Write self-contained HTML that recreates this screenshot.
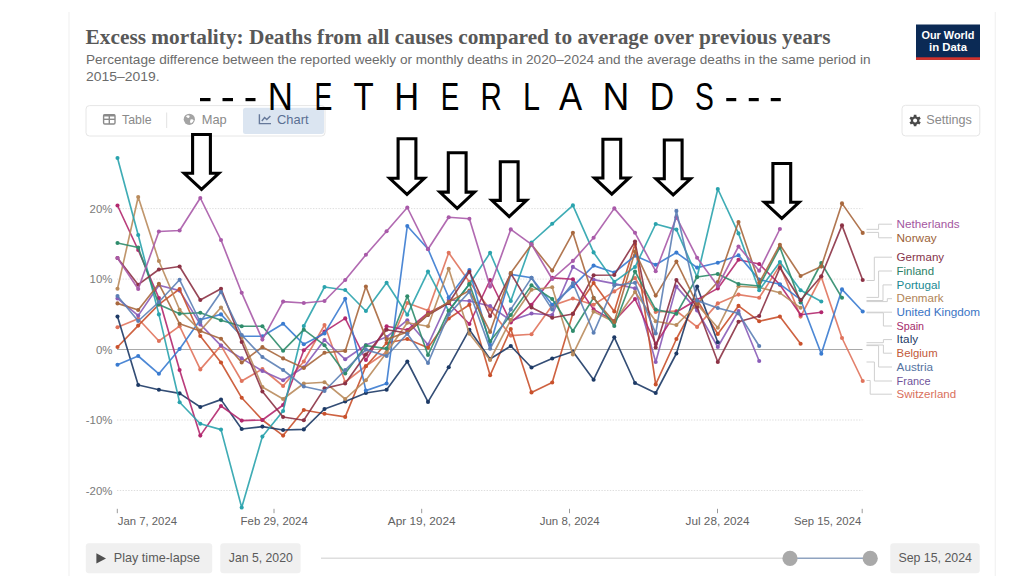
<!DOCTYPE html>
<html><head><meta charset="utf-8"><title>Excess mortality</title>
<style>html,body{margin:0;padding:0;background:#fff;}body{width:1024px;height:576px;overflow:hidden;font-family:"Liberation Sans", sans-serif;}svg{display:block;}text{font-family:"Liberation Sans", sans-serif;}</style>
</head><body>
<svg width="1024" height="576" viewBox="0 0 1024 576">
<rect x="0" y="0" width="1024" height="576" fill="#ffffff"/>
<line x1="69" y1="12" x2="69" y2="576" stroke="#f3f3f3" stroke-width="1.3"/><line x1="995.3" y1="12" x2="995.3" y2="576" stroke="#f3f3f3" stroke-width="1.3"/>
<text x="85.6" y="43.8" style='font-family:"Liberation Serif", serif' font-weight="bold" font-size="21" fill="#585858" textLength="745" lengthAdjust="spacingAndGlyphs">Excess mortality: Deaths from all causes compared to average over previous years</text>
<text x="86" y="63.9" font-size="13.4" fill="#6b6b6b" textLength="784.5" lengthAdjust="spacingAndGlyphs">Percentage difference between the reported weekly or monthly deaths in 2020–2024 and the average deaths in the same period in</text>
<text x="86" y="81.3" font-size="13.4" fill="#6b6b6b" textLength="73.5" lengthAdjust="spacingAndGlyphs">2015–2019.</text>
<rect x="916" y="24.5" width="64" height="35.3" fill="#0b2a55"/>
<rect x="916" y="57.3" width="64" height="2.6" fill="#d3312b"/>
<text x="948" y="38.6" font-size="10.6" font-weight="bold" fill="#fff" text-anchor="middle" textLength="53" lengthAdjust="spacingAndGlyphs">Our World</text>
<text x="948" y="51" font-size="10.6" font-weight="bold" fill="#fff" text-anchor="middle" textLength="38" lengthAdjust="spacingAndGlyphs">in Data</text>
<rect x="86" y="105.6" width="239" height="30.4" rx="3.5" fill="#fff" stroke="#e6e6e6" stroke-width="1"/>
<rect x="243" y="107.7" width="81" height="26.3" rx="2.5" fill="#dbe5f1"/>
<line x1="166.7" y1="112.5" x2="166.7" y2="128" stroke="#e2e2e2" stroke-width="1"/>
<g fill="none" stroke="#8a8a8a" stroke-width="1.4"><rect x="103.6" y="114.6" width="11.4" height="9.4" rx="1.2"/><line x1="103.6" y1="119.3" x2="115" y2="119.3"/><line x1="109.3" y1="114.6" x2="109.3" y2="124"/><line x1="103.6" y1="115.5" x2="115" y2="115.5" stroke-width="2"/></g>
<text x="122" y="123.8" font-size="12.6" fill="#8a8a8a" textLength="29.5" lengthAdjust="spacingAndGlyphs">Table</text>
<circle cx="189.3" cy="119.3" r="5.6" fill="#a4a4a4"/><path d="M186 116.2 q2 -1.6 3.6 -0.4 q0.4 1.6 -1 2.2 q-1.6 0.2 -2.6 -1.8z M190.5 119.5 q2.2 -0.6 3.2 0.8 q-0.8 2.6 -2.8 3.2 q-1.4 -2 -0.4 -4z" fill="#fff"/>
<text x="201.7" y="123.8" font-size="12.6" fill="#8a8a8a" textLength="25" lengthAdjust="spacingAndGlyphs">Map</text>
<path d="M259.4 114.2 V123.6 H271" fill="none" stroke="#66799a" stroke-width="1.4"/><path d="M261.8 121 L264.6 117.6 L266.8 119.6 L270.4 116" fill="none" stroke="#66799a" stroke-width="1.4"/>
<text x="277" y="123.8" font-size="12.6" fill="#5a6f93" textLength="31.5" lengthAdjust="spacingAndGlyphs">Chart</text>
<rect x="902" y="105.3" width="77.8" height="30.6" rx="3.5" fill="#fff" stroke="#e6e6e6" stroke-width="1"/>
<path d="M916.49 124.67 L916.39 126.36 L913.81 126.36 L913.71 124.67 L912.27 123.84 L910.76 124.59 L909.47 122.36 L910.88 121.43 L910.88 119.77 L909.47 118.84 L910.76 116.61 L912.27 117.36 L913.71 116.53 L913.81 114.84 L916.39 114.84 L916.49 116.53 L917.93 117.36 L919.44 116.61 L920.73 118.84 L919.32 119.77 L919.32 121.43 L920.73 122.36 L919.44 124.59 L917.93 123.84Z" fill="#4a4a4a"/>
<circle cx="915.1" cy="120.6" r="2.0" fill="#fff"/>
<text x="926.3" y="124.4" font-size="12.6" fill="#8a8a8a" textLength="45.5" lengthAdjust="spacingAndGlyphs">Settings</text>
<line x1="117" y1="208.6" x2="862.5" y2="208.6" stroke="#dedede" stroke-width="1" stroke-dasharray="1.4,1.4"/>
<line x1="117" y1="279.1" x2="862.5" y2="279.1" stroke="#dedede" stroke-width="1" stroke-dasharray="1.4,1.4"/>
<line x1="117" y1="420.0" x2="862.5" y2="420.0" stroke="#dedede" stroke-width="1" stroke-dasharray="1.4,1.4"/>
<line x1="117" y1="490.5" x2="862.5" y2="490.5" stroke="#dedede" stroke-width="1" stroke-dasharray="1.4,1.4"/>
<line x1="117" y1="349.5" x2="862.5" y2="349.5" stroke="#a9a9a9" stroke-width="1.2"/>
<text x="112.4" y="212.7" font-size="11.4" fill="#7a7a7a" text-anchor="end">20%</text>
<text x="112.4" y="283.2" font-size="11.4" fill="#7a7a7a" text-anchor="end">10%</text>
<text x="112.4" y="353.6" font-size="11.4" fill="#7a7a7a" text-anchor="end">0%</text>
<text x="112.4" y="424.1" font-size="11.4" fill="#7a7a7a" text-anchor="end">-10%</text>
<text x="112.4" y="494.6" font-size="11.4" fill="#7a7a7a" text-anchor="end">-20%</text>
<line x1="117.3" y1="508.8" x2="117.3" y2="513.2" stroke="#9a9a9a" stroke-width="1"/>
<text x="117.8" y="525.3" font-size="11.6" fill="#626262" textLength="59.2" lengthAdjust="spacingAndGlyphs">Jan 7, 2024</text>
<line x1="274.0" y1="508.8" x2="274.0" y2="513.2" stroke="#9a9a9a" stroke-width="1"/>
<text x="240.6" y="525.3" font-size="11.6" fill="#626262" textLength="67.2" lengthAdjust="spacingAndGlyphs">Feb 29, 2024</text>
<line x1="421.7" y1="508.8" x2="421.7" y2="513.2" stroke="#9a9a9a" stroke-width="1"/>
<text x="387.8" y="525.3" font-size="11.6" fill="#626262" textLength="67.8" lengthAdjust="spacingAndGlyphs">Apr 19, 2024</text>
<line x1="569.5" y1="508.8" x2="569.5" y2="513.2" stroke="#9a9a9a" stroke-width="1"/>
<text x="539.7" y="525.3" font-size="11.6" fill="#626262" textLength="60.0" lengthAdjust="spacingAndGlyphs">Jun 8, 2024</text>
<line x1="717.5" y1="508.8" x2="717.5" y2="513.2" stroke="#9a9a9a" stroke-width="1"/>
<text x="685.6" y="525.3" font-size="11.6" fill="#626262" textLength="64.0" lengthAdjust="spacingAndGlyphs">Jul 28, 2024</text>
<line x1="862.2" y1="508.8" x2="862.2" y2="513.2" stroke="#9a9a9a" stroke-width="1"/>
<text x="794.0" y="525.3" font-size="11.6" fill="#626262" textLength="67.2" lengthAdjust="spacingAndGlyphs">Sep 15, 2024</text>
<polyline fill="none" stroke="#e0735c" stroke-width="1.65" stroke-linejoin="round" stroke-linecap="round" stroke-opacity="0.9" points="117.5,327.3 138.2,318.8 158.9,341.0 179.6,326.2 200.3,369.4 221.0,345.6 241.7,381.0 262.4,369.0 283.1,386.0 303.8,361.5 324.5,325.0 345.2,382.0 365.9,366.0 386.6,352.0 407.3,303.0 428.0,310.6 448.7,252.8 469.4,281.9 490.1,309.4 510.8,335.6 531.5,334.3 552.2,305.6 572.9,298.5 593.6,304.7 614.3,291.4 635.0,278.0 655.7,311.9 676.4,311.0 697.1,326.9 717.8,303.4 738.5,294.6 759.2,297.8 779.9,265.4 800.6,316.6 821.3,277.0 842.0,338.0 862.7,381.0"/>
<g fill="#e0735c"><circle cx="117.5" cy="327.3" r="2.05"/><circle cx="138.2" cy="318.8" r="2.05"/><circle cx="158.9" cy="341.0" r="2.05"/><circle cx="179.6" cy="326.2" r="2.05"/><circle cx="200.3" cy="369.4" r="2.05"/><circle cx="221.0" cy="345.6" r="2.05"/><circle cx="241.7" cy="381.0" r="2.05"/><circle cx="262.4" cy="369.0" r="2.05"/><circle cx="283.1" cy="386.0" r="2.05"/><circle cx="303.8" cy="361.5" r="2.05"/><circle cx="324.5" cy="325.0" r="2.05"/><circle cx="345.2" cy="382.0" r="2.05"/><circle cx="365.9" cy="366.0" r="2.05"/><circle cx="386.6" cy="352.0" r="2.05"/><circle cx="407.3" cy="303.0" r="2.05"/><circle cx="428.0" cy="310.6" r="2.05"/><circle cx="448.7" cy="252.8" r="2.05"/><circle cx="469.4" cy="281.9" r="2.05"/><circle cx="490.1" cy="309.4" r="2.05"/><circle cx="510.8" cy="335.6" r="2.05"/><circle cx="531.5" cy="334.3" r="2.05"/><circle cx="552.2" cy="305.6" r="2.05"/><circle cx="572.9" cy="298.5" r="2.05"/><circle cx="593.6" cy="304.7" r="2.05"/><circle cx="614.3" cy="291.4" r="2.05"/><circle cx="635.0" cy="278.0" r="2.05"/><circle cx="655.7" cy="311.9" r="2.05"/><circle cx="676.4" cy="311.0" r="2.05"/><circle cx="697.1" cy="326.9" r="2.05"/><circle cx="717.8" cy="303.4" r="2.05"/><circle cx="738.5" cy="294.6" r="2.05"/><circle cx="759.2" cy="297.8" r="2.05"/><circle cx="779.9" cy="265.4" r="2.05"/><circle cx="800.6" cy="316.6" r="2.05"/><circle cx="821.3" cy="277.0" r="2.05"/><circle cx="842.0" cy="338.0" r="2.05"/><circle cx="862.7" cy="381.0" r="2.05"/></g>
<polyline fill="none" stroke="#8a5cb8" stroke-width="1.65" stroke-linejoin="round" stroke-linecap="round" stroke-opacity="0.9" points="117.5,298.4 138.2,315.6 158.9,285.2 179.6,290.6 200.3,324.4 221.0,345.6 241.7,358.4 262.4,371.0 283.1,380.3 303.8,367.2 324.5,340.0 345.2,359.3 365.9,345.0 386.6,337.0 407.3,320.2 428.0,344.8 448.7,300.0 469.4,301.0 490.1,306.0 510.8,320.6 531.5,313.5 552.2,315.0 572.9,266.9 593.6,279.6 614.3,283.6 635.0,288.4 655.7,362.0 676.4,286.6 697.1,310.4 717.8,347.0 738.5,311.0 759.2,361.0"/>
<g fill="#8a5cb8"><circle cx="117.5" cy="298.4" r="2.05"/><circle cx="138.2" cy="315.6" r="2.05"/><circle cx="158.9" cy="285.2" r="2.05"/><circle cx="179.6" cy="290.6" r="2.05"/><circle cx="200.3" cy="324.4" r="2.05"/><circle cx="221.0" cy="345.6" r="2.05"/><circle cx="241.7" cy="358.4" r="2.05"/><circle cx="262.4" cy="371.0" r="2.05"/><circle cx="283.1" cy="380.3" r="2.05"/><circle cx="303.8" cy="367.2" r="2.05"/><circle cx="324.5" cy="340.0" r="2.05"/><circle cx="345.2" cy="359.3" r="2.05"/><circle cx="365.9" cy="345.0" r="2.05"/><circle cx="386.6" cy="337.0" r="2.05"/><circle cx="407.3" cy="320.2" r="2.05"/><circle cx="428.0" cy="344.8" r="2.05"/><circle cx="448.7" cy="300.0" r="2.05"/><circle cx="469.4" cy="301.0" r="2.05"/><circle cx="490.1" cy="306.0" r="2.05"/><circle cx="510.8" cy="320.6" r="2.05"/><circle cx="531.5" cy="313.5" r="2.05"/><circle cx="552.2" cy="315.0" r="2.05"/><circle cx="572.9" cy="266.9" r="2.05"/><circle cx="593.6" cy="279.6" r="2.05"/><circle cx="614.3" cy="283.6" r="2.05"/><circle cx="635.0" cy="288.4" r="2.05"/><circle cx="655.7" cy="362.0" r="2.05"/><circle cx="676.4" cy="286.6" r="2.05"/><circle cx="697.1" cy="310.4" r="2.05"/><circle cx="717.8" cy="347.0" r="2.05"/><circle cx="738.5" cy="311.0" r="2.05"/><circle cx="759.2" cy="361.0" r="2.05"/></g>
<polyline fill="none" stroke="#c9512c" stroke-width="1.65" stroke-linejoin="round" stroke-linecap="round" stroke-opacity="0.9" points="117.5,347.0 138.2,325.6 158.9,304.4 179.6,289.0 200.3,336.0 221.0,362.5 241.7,397.8 262.4,420.0 283.1,435.6 303.8,410.0 324.5,413.7 345.2,416.9 365.9,366.2 386.6,343.0 407.3,339.0 428.0,347.8 448.7,318.5 469.4,304.7 490.1,375.3 510.8,329.0 531.5,392.4 552.2,382.5 572.9,313.5 593.6,283.0 614.3,311.5 635.0,244.0 655.7,384.4 676.4,339.0 697.1,300.0 717.8,334.0 738.5,305.9 759.2,321.2 779.9,316.6 800.6,343.8"/>
<g fill="#c9512c"><circle cx="117.5" cy="347.0" r="2.05"/><circle cx="138.2" cy="325.6" r="2.05"/><circle cx="158.9" cy="304.4" r="2.05"/><circle cx="179.6" cy="289.0" r="2.05"/><circle cx="200.3" cy="336.0" r="2.05"/><circle cx="221.0" cy="362.5" r="2.05"/><circle cx="241.7" cy="397.8" r="2.05"/><circle cx="262.4" cy="420.0" r="2.05"/><circle cx="283.1" cy="435.6" r="2.05"/><circle cx="303.8" cy="410.0" r="2.05"/><circle cx="324.5" cy="413.7" r="2.05"/><circle cx="345.2" cy="416.9" r="2.05"/><circle cx="365.9" cy="366.2" r="2.05"/><circle cx="386.6" cy="343.0" r="2.05"/><circle cx="407.3" cy="339.0" r="2.05"/><circle cx="428.0" cy="347.8" r="2.05"/><circle cx="448.7" cy="318.5" r="2.05"/><circle cx="469.4" cy="304.7" r="2.05"/><circle cx="490.1" cy="375.3" r="2.05"/><circle cx="510.8" cy="329.0" r="2.05"/><circle cx="531.5" cy="392.4" r="2.05"/><circle cx="552.2" cy="382.5" r="2.05"/><circle cx="572.9" cy="313.5" r="2.05"/><circle cx="593.6" cy="283.0" r="2.05"/><circle cx="614.3" cy="311.5" r="2.05"/><circle cx="635.0" cy="244.0" r="2.05"/><circle cx="655.7" cy="384.4" r="2.05"/><circle cx="676.4" cy="339.0" r="2.05"/><circle cx="697.1" cy="300.0" r="2.05"/><circle cx="717.8" cy="334.0" r="2.05"/><circle cx="738.5" cy="305.9" r="2.05"/><circle cx="759.2" cy="321.2" r="2.05"/><circle cx="779.9" cy="316.6" r="2.05"/><circle cx="800.6" cy="343.8" r="2.05"/></g>
<polyline fill="none" stroke="#1d3a66" stroke-width="1.65" stroke-linejoin="round" stroke-linecap="round" stroke-opacity="0.9" points="117.5,316.6 138.2,385.0 158.9,389.7 179.6,393.4 200.3,407.0 221.0,399.6 241.7,429.0 262.4,426.6 283.1,430.0 303.8,429.4 324.5,409.0 345.2,401.5 365.9,393.0 386.6,389.7 407.3,361.5 428.0,401.9 448.7,367.2 469.4,329.7 490.1,359.0 510.8,346.0 531.5,367.5 552.2,358.5 572.9,351.5 593.6,379.7 614.3,337.3 635.0,383.0 655.7,393.0 676.4,353.5 697.1,286.6 717.8,342.2"/>
<g fill="#1d3a66"><circle cx="117.5" cy="316.6" r="2.05"/><circle cx="138.2" cy="385.0" r="2.05"/><circle cx="158.9" cy="389.7" r="2.05"/><circle cx="179.6" cy="393.4" r="2.05"/><circle cx="200.3" cy="407.0" r="2.05"/><circle cx="221.0" cy="399.6" r="2.05"/><circle cx="241.7" cy="429.0" r="2.05"/><circle cx="262.4" cy="426.6" r="2.05"/><circle cx="283.1" cy="430.0" r="2.05"/><circle cx="303.8" cy="429.4" r="2.05"/><circle cx="324.5" cy="409.0" r="2.05"/><circle cx="345.2" cy="401.5" r="2.05"/><circle cx="365.9" cy="393.0" r="2.05"/><circle cx="386.6" cy="389.7" r="2.05"/><circle cx="407.3" cy="361.5" r="2.05"/><circle cx="428.0" cy="401.9" r="2.05"/><circle cx="448.7" cy="367.2" r="2.05"/><circle cx="469.4" cy="329.7" r="2.05"/><circle cx="490.1" cy="359.0" r="2.05"/><circle cx="510.8" cy="346.0" r="2.05"/><circle cx="531.5" cy="367.5" r="2.05"/><circle cx="552.2" cy="358.5" r="2.05"/><circle cx="572.9" cy="351.5" r="2.05"/><circle cx="593.6" cy="379.7" r="2.05"/><circle cx="614.3" cy="337.3" r="2.05"/><circle cx="635.0" cy="383.0" r="2.05"/><circle cx="655.7" cy="393.0" r="2.05"/><circle cx="676.4" cy="353.5" r="2.05"/><circle cx="697.1" cy="286.6" r="2.05"/><circle cx="717.8" cy="342.2" r="2.05"/></g>
<polyline fill="none" stroke="#b2286e" stroke-width="1.65" stroke-linejoin="round" stroke-linecap="round" stroke-opacity="0.9" points="117.5,205.5 138.2,250.0 158.9,298.0 179.6,370.0 200.3,435.6 221.0,406.0 241.7,420.6 262.4,420.0 283.1,405.0 303.8,350.3 324.5,331.6 345.2,318.4 365.9,360.0 386.6,326.2 407.3,330.0 428.0,313.0 448.7,303.0 469.4,324.0 490.1,280.0 510.8,322.5 531.5,304.7 552.2,277.9 572.9,279.2 593.6,309.4 614.3,321.0 635.0,299.0 655.7,344.0 676.4,312.0 697.1,299.7 717.8,288.4 738.5,259.8 759.2,264.0 779.9,284.7 800.6,314.7 821.3,312.2"/>
<g fill="#b2286e"><circle cx="117.5" cy="205.5" r="2.05"/><circle cx="138.2" cy="250.0" r="2.05"/><circle cx="158.9" cy="298.0" r="2.05"/><circle cx="179.6" cy="370.0" r="2.05"/><circle cx="200.3" cy="435.6" r="2.05"/><circle cx="221.0" cy="406.0" r="2.05"/><circle cx="241.7" cy="420.6" r="2.05"/><circle cx="262.4" cy="420.0" r="2.05"/><circle cx="283.1" cy="405.0" r="2.05"/><circle cx="303.8" cy="350.3" r="2.05"/><circle cx="324.5" cy="331.6" r="2.05"/><circle cx="345.2" cy="318.4" r="2.05"/><circle cx="365.9" cy="360.0" r="2.05"/><circle cx="386.6" cy="326.2" r="2.05"/><circle cx="407.3" cy="330.0" r="2.05"/><circle cx="428.0" cy="313.0" r="2.05"/><circle cx="448.7" cy="303.0" r="2.05"/><circle cx="469.4" cy="324.0" r="2.05"/><circle cx="490.1" cy="280.0" r="2.05"/><circle cx="510.8" cy="322.5" r="2.05"/><circle cx="531.5" cy="304.7" r="2.05"/><circle cx="552.2" cy="277.9" r="2.05"/><circle cx="572.9" cy="279.2" r="2.05"/><circle cx="593.6" cy="309.4" r="2.05"/><circle cx="614.3" cy="321.0" r="2.05"/><circle cx="635.0" cy="299.0" r="2.05"/><circle cx="655.7" cy="344.0" r="2.05"/><circle cx="676.4" cy="312.0" r="2.05"/><circle cx="697.1" cy="299.7" r="2.05"/><circle cx="717.8" cy="288.4" r="2.05"/><circle cx="738.5" cy="259.8" r="2.05"/><circle cx="759.2" cy="264.0" r="2.05"/><circle cx="779.9" cy="284.7" r="2.05"/><circle cx="800.6" cy="314.7" r="2.05"/><circle cx="821.3" cy="312.2" r="2.05"/></g>
<polyline fill="none" stroke="#3a7bd0" stroke-width="1.65" stroke-linejoin="round" stroke-linecap="round" stroke-opacity="0.9" points="117.5,364.8 138.2,356.0 158.9,373.8 179.6,349.0 200.3,319.8 221.0,314.4 241.7,336.2 262.4,336.2 283.1,323.7 303.8,344.3 324.5,333.4 345.2,298.8 365.9,390.6 386.6,383.5 407.3,226.0 428.0,249.0 448.7,297.5 469.4,270.0 490.1,345.0 510.8,274.4 531.5,277.8 552.2,304.7 572.9,286.3 593.6,265.6 614.3,272.5 635.0,255.8 655.7,264.7 676.4,252.6 697.1,267.6 717.8,262.8 738.5,255.3 759.2,279.6 779.9,284.2 800.6,299.7 821.3,353.7 842.0,289.4 862.7,311.5"/>
<g fill="#3a7bd0"><circle cx="117.5" cy="364.8" r="2.05"/><circle cx="138.2" cy="356.0" r="2.05"/><circle cx="158.9" cy="373.8" r="2.05"/><circle cx="179.6" cy="349.0" r="2.05"/><circle cx="200.3" cy="319.8" r="2.05"/><circle cx="221.0" cy="314.4" r="2.05"/><circle cx="241.7" cy="336.2" r="2.05"/><circle cx="262.4" cy="336.2" r="2.05"/><circle cx="283.1" cy="323.7" r="2.05"/><circle cx="303.8" cy="344.3" r="2.05"/><circle cx="324.5" cy="333.4" r="2.05"/><circle cx="345.2" cy="298.8" r="2.05"/><circle cx="365.9" cy="390.6" r="2.05"/><circle cx="386.6" cy="383.5" r="2.05"/><circle cx="407.3" cy="226.0" r="2.05"/><circle cx="428.0" cy="249.0" r="2.05"/><circle cx="448.7" cy="297.5" r="2.05"/><circle cx="469.4" cy="270.0" r="2.05"/><circle cx="490.1" cy="345.0" r="2.05"/><circle cx="510.8" cy="274.4" r="2.05"/><circle cx="531.5" cy="277.8" r="2.05"/><circle cx="552.2" cy="304.7" r="2.05"/><circle cx="572.9" cy="286.3" r="2.05"/><circle cx="593.6" cy="265.6" r="2.05"/><circle cx="614.3" cy="272.5" r="2.05"/><circle cx="635.0" cy="255.8" r="2.05"/><circle cx="655.7" cy="264.7" r="2.05"/><circle cx="676.4" cy="252.6" r="2.05"/><circle cx="697.1" cy="267.6" r="2.05"/><circle cx="717.8" cy="262.8" r="2.05"/><circle cx="738.5" cy="255.3" r="2.05"/><circle cx="759.2" cy="279.6" r="2.05"/><circle cx="779.9" cy="284.2" r="2.05"/><circle cx="800.6" cy="299.7" r="2.05"/><circle cx="821.3" cy="353.7" r="2.05"/><circle cx="842.0" cy="289.4" r="2.05"/><circle cx="862.7" cy="311.5" r="2.05"/></g>
<polyline fill="none" stroke="#b98b5c" stroke-width="1.65" stroke-linejoin="round" stroke-linecap="round" stroke-opacity="0.9" points="117.5,288.8 138.2,197.0 158.9,261.0 179.6,309.8 200.3,330.6 221.0,307.5 241.7,337.5 262.4,387.0 283.1,399.0 303.8,383.5 324.5,382.2 345.2,399.0 365.9,380.3 386.6,352.5 407.3,322.8 428.0,326.2 448.7,268.8 469.4,333.8 490.1,360.0 510.8,320.0 531.5,289.7 552.2,287.2 572.9,354.4 593.6,311.6 614.3,322.0 635.0,292.0 655.7,321.2 676.4,325.0 697.1,304.4 717.8,327.8 738.5,286.3 759.2,287.5 779.9,292.8 800.6,307.8"/>
<g fill="#b98b5c"><circle cx="117.5" cy="288.8" r="2.05"/><circle cx="138.2" cy="197.0" r="2.05"/><circle cx="158.9" cy="261.0" r="2.05"/><circle cx="179.6" cy="309.8" r="2.05"/><circle cx="200.3" cy="330.6" r="2.05"/><circle cx="221.0" cy="307.5" r="2.05"/><circle cx="241.7" cy="337.5" r="2.05"/><circle cx="262.4" cy="387.0" r="2.05"/><circle cx="283.1" cy="399.0" r="2.05"/><circle cx="303.8" cy="383.5" r="2.05"/><circle cx="324.5" cy="382.2" r="2.05"/><circle cx="345.2" cy="399.0" r="2.05"/><circle cx="365.9" cy="380.3" r="2.05"/><circle cx="386.6" cy="352.5" r="2.05"/><circle cx="407.3" cy="322.8" r="2.05"/><circle cx="428.0" cy="326.2" r="2.05"/><circle cx="448.7" cy="268.8" r="2.05"/><circle cx="469.4" cy="333.8" r="2.05"/><circle cx="490.1" cy="360.0" r="2.05"/><circle cx="510.8" cy="320.0" r="2.05"/><circle cx="531.5" cy="289.7" r="2.05"/><circle cx="552.2" cy="287.2" r="2.05"/><circle cx="572.9" cy="354.4" r="2.05"/><circle cx="593.6" cy="311.6" r="2.05"/><circle cx="614.3" cy="322.0" r="2.05"/><circle cx="635.0" cy="292.0" r="2.05"/><circle cx="655.7" cy="321.2" r="2.05"/><circle cx="676.4" cy="325.0" r="2.05"/><circle cx="697.1" cy="304.4" r="2.05"/><circle cx="717.8" cy="327.8" r="2.05"/><circle cx="738.5" cy="286.3" r="2.05"/><circle cx="759.2" cy="287.5" r="2.05"/><circle cx="779.9" cy="292.8" r="2.05"/><circle cx="800.6" cy="307.8" r="2.05"/></g>
<polyline fill="none" stroke="#2aa3ad" stroke-width="1.65" stroke-linejoin="round" stroke-linecap="round" stroke-opacity="0.9" points="117.5,158.0 138.2,235.0 158.9,314.4 179.6,402.2 200.3,423.8 221.0,429.6 241.7,507.5 262.4,436.6 283.1,411.0 303.8,326.0 324.5,287.0 345.2,290.0 365.9,311.0 386.6,282.8 407.3,314.7 428.0,271.6 448.7,311.0 469.4,284.3 490.1,252.8 510.8,301.0 531.5,242.5 552.2,223.8 572.9,205.4 593.6,252.4 614.3,281.9 635.0,267.0 655.7,224.0 676.4,229.6 697.1,277.0 717.8,189.0 738.5,233.4 759.2,290.3 779.9,262.0 800.6,290.3 821.3,301.5"/>
<g fill="#2aa3ad"><circle cx="117.5" cy="158.0" r="2.05"/><circle cx="138.2" cy="235.0" r="2.05"/><circle cx="158.9" cy="314.4" r="2.05"/><circle cx="179.6" cy="402.2" r="2.05"/><circle cx="200.3" cy="423.8" r="2.05"/><circle cx="221.0" cy="429.6" r="2.05"/><circle cx="241.7" cy="507.5" r="2.05"/><circle cx="262.4" cy="436.6" r="2.05"/><circle cx="283.1" cy="411.0" r="2.05"/><circle cx="303.8" cy="326.0" r="2.05"/><circle cx="324.5" cy="287.0" r="2.05"/><circle cx="345.2" cy="290.0" r="2.05"/><circle cx="365.9" cy="311.0" r="2.05"/><circle cx="386.6" cy="282.8" r="2.05"/><circle cx="407.3" cy="314.7" r="2.05"/><circle cx="428.0" cy="271.6" r="2.05"/><circle cx="448.7" cy="311.0" r="2.05"/><circle cx="469.4" cy="284.3" r="2.05"/><circle cx="490.1" cy="252.8" r="2.05"/><circle cx="510.8" cy="301.0" r="2.05"/><circle cx="531.5" cy="242.5" r="2.05"/><circle cx="552.2" cy="223.8" r="2.05"/><circle cx="572.9" cy="205.4" r="2.05"/><circle cx="593.6" cy="252.4" r="2.05"/><circle cx="614.3" cy="281.9" r="2.05"/><circle cx="635.0" cy="267.0" r="2.05"/><circle cx="655.7" cy="224.0" r="2.05"/><circle cx="676.4" cy="229.6" r="2.05"/><circle cx="697.1" cy="277.0" r="2.05"/><circle cx="717.8" cy="189.0" r="2.05"/><circle cx="738.5" cy="233.4" r="2.05"/><circle cx="759.2" cy="290.3" r="2.05"/><circle cx="779.9" cy="262.0" r="2.05"/><circle cx="800.6" cy="290.3" r="2.05"/><circle cx="821.3" cy="301.5" r="2.05"/></g>
<polyline fill="none" stroke="#2f8c6c" stroke-width="1.65" stroke-linejoin="round" stroke-linecap="round" stroke-opacity="0.9" points="117.5,243.0 138.2,247.5 158.9,304.4 179.6,313.8 200.3,312.8 221.0,320.2 241.7,326.2 262.4,326.3 283.1,350.7 303.8,329.7 324.5,345.2 345.2,373.4 365.9,345.6 386.6,348.6 407.3,296.2 428.0,355.0 448.7,310.8 469.4,284.0 490.1,341.2 510.8,315.0 531.5,285.4 552.2,299.0 572.9,331.0 593.6,297.8 614.3,326.0 635.0,271.5 655.7,309.6 676.4,313.8 697.1,277.0 717.8,274.0 738.5,284.0 759.2,286.0 779.9,247.3 800.6,302.5 821.3,263.0 842.0,297.8"/>
<g fill="#2f8c6c"><circle cx="117.5" cy="243.0" r="2.05"/><circle cx="138.2" cy="247.5" r="2.05"/><circle cx="158.9" cy="304.4" r="2.05"/><circle cx="179.6" cy="313.8" r="2.05"/><circle cx="200.3" cy="312.8" r="2.05"/><circle cx="221.0" cy="320.2" r="2.05"/><circle cx="241.7" cy="326.2" r="2.05"/><circle cx="262.4" cy="326.3" r="2.05"/><circle cx="283.1" cy="350.7" r="2.05"/><circle cx="303.8" cy="329.7" r="2.05"/><circle cx="324.5" cy="345.2" r="2.05"/><circle cx="345.2" cy="373.4" r="2.05"/><circle cx="365.9" cy="345.6" r="2.05"/><circle cx="386.6" cy="348.6" r="2.05"/><circle cx="407.3" cy="296.2" r="2.05"/><circle cx="428.0" cy="355.0" r="2.05"/><circle cx="448.7" cy="310.8" r="2.05"/><circle cx="469.4" cy="284.0" r="2.05"/><circle cx="490.1" cy="341.2" r="2.05"/><circle cx="510.8" cy="315.0" r="2.05"/><circle cx="531.5" cy="285.4" r="2.05"/><circle cx="552.2" cy="299.0" r="2.05"/><circle cx="572.9" cy="331.0" r="2.05"/><circle cx="593.6" cy="297.8" r="2.05"/><circle cx="614.3" cy="326.0" r="2.05"/><circle cx="635.0" cy="271.5" r="2.05"/><circle cx="655.7" cy="309.6" r="2.05"/><circle cx="676.4" cy="313.8" r="2.05"/><circle cx="697.1" cy="277.0" r="2.05"/><circle cx="717.8" cy="274.0" r="2.05"/><circle cx="738.5" cy="284.0" r="2.05"/><circle cx="759.2" cy="286.0" r="2.05"/><circle cx="779.9" cy="247.3" r="2.05"/><circle cx="800.6" cy="302.5" r="2.05"/><circle cx="821.3" cy="263.0" r="2.05"/><circle cx="842.0" cy="297.8" r="2.05"/></g>
<polyline fill="none" stroke="#8c3245" stroke-width="1.65" stroke-linejoin="round" stroke-linecap="round" stroke-opacity="0.9" points="117.5,258.0 138.2,284.7 158.9,269.5 179.6,266.5 200.3,300.0 221.0,288.8 241.7,342.0 262.4,391.5 283.1,417.0 303.8,420.2 324.5,388.4 345.2,383.5 365.9,354.6 386.6,329.7 407.3,333.0 428.0,315.0 448.7,303.0 469.4,271.7 490.1,316.0 510.8,273.4 531.5,307.5 552.2,317.8 572.9,314.0 593.6,275.2 614.3,275.0 635.0,241.6 655.7,347.5 676.4,280.0 697.1,307.0 717.8,362.0 738.5,321.8 759.2,316.0 779.9,267.8 800.6,300.2 821.3,276.2 842.0,225.4 862.7,280.0"/>
<g fill="#8c3245"><circle cx="117.5" cy="258.0" r="2.05"/><circle cx="138.2" cy="284.7" r="2.05"/><circle cx="158.9" cy="269.5" r="2.05"/><circle cx="179.6" cy="266.5" r="2.05"/><circle cx="200.3" cy="300.0" r="2.05"/><circle cx="221.0" cy="288.8" r="2.05"/><circle cx="241.7" cy="342.0" r="2.05"/><circle cx="262.4" cy="391.5" r="2.05"/><circle cx="283.1" cy="417.0" r="2.05"/><circle cx="303.8" cy="420.2" r="2.05"/><circle cx="324.5" cy="388.4" r="2.05"/><circle cx="345.2" cy="383.5" r="2.05"/><circle cx="365.9" cy="354.6" r="2.05"/><circle cx="386.6" cy="329.7" r="2.05"/><circle cx="407.3" cy="333.0" r="2.05"/><circle cx="428.0" cy="315.0" r="2.05"/><circle cx="448.7" cy="303.0" r="2.05"/><circle cx="469.4" cy="271.7" r="2.05"/><circle cx="490.1" cy="316.0" r="2.05"/><circle cx="510.8" cy="273.4" r="2.05"/><circle cx="531.5" cy="307.5" r="2.05"/><circle cx="552.2" cy="317.8" r="2.05"/><circle cx="572.9" cy="314.0" r="2.05"/><circle cx="593.6" cy="275.2" r="2.05"/><circle cx="614.3" cy="275.0" r="2.05"/><circle cx="635.0" cy="241.6" r="2.05"/><circle cx="655.7" cy="347.5" r="2.05"/><circle cx="676.4" cy="280.0" r="2.05"/><circle cx="697.1" cy="307.0" r="2.05"/><circle cx="717.8" cy="362.0" r="2.05"/><circle cx="738.5" cy="321.8" r="2.05"/><circle cx="759.2" cy="316.0" r="2.05"/><circle cx="779.9" cy="267.8" r="2.05"/><circle cx="800.6" cy="300.2" r="2.05"/><circle cx="821.3" cy="276.2" r="2.05"/><circle cx="842.0" cy="225.4" r="2.05"/><circle cx="862.7" cy="280.0" r="2.05"/></g>
<polyline fill="none" stroke="#a8683e" stroke-width="1.65" stroke-linejoin="round" stroke-linecap="round" stroke-opacity="0.9" points="117.5,303.4 138.2,310.0 158.9,283.8 179.6,323.8 200.3,331.0 221.0,338.8 241.7,362.5 262.4,347.0 283.1,358.4 303.8,368.0 324.5,352.8 345.2,350.9 365.9,286.6 386.6,339.4 407.3,332.0 428.0,314.4 448.7,302.0 469.4,290.5 490.1,331.9 510.8,273.0 531.5,244.4 552.2,270.6 572.9,232.8 593.6,298.0 614.3,322.0 635.0,251.5 655.7,295.6 676.4,261.6 697.1,304.0 717.8,282.0 738.5,222.0 759.2,282.8 779.9,244.7 800.6,276.0 821.3,266.6 842.0,203.4 862.7,232.9"/>
<g fill="#a8683e"><circle cx="117.5" cy="303.4" r="2.05"/><circle cx="138.2" cy="310.0" r="2.05"/><circle cx="158.9" cy="283.8" r="2.05"/><circle cx="179.6" cy="323.8" r="2.05"/><circle cx="200.3" cy="331.0" r="2.05"/><circle cx="221.0" cy="338.8" r="2.05"/><circle cx="241.7" cy="362.5" r="2.05"/><circle cx="262.4" cy="347.0" r="2.05"/><circle cx="283.1" cy="358.4" r="2.05"/><circle cx="303.8" cy="368.0" r="2.05"/><circle cx="324.5" cy="352.8" r="2.05"/><circle cx="345.2" cy="350.9" r="2.05"/><circle cx="365.9" cy="286.6" r="2.05"/><circle cx="386.6" cy="339.4" r="2.05"/><circle cx="407.3" cy="332.0" r="2.05"/><circle cx="428.0" cy="314.4" r="2.05"/><circle cx="448.7" cy="302.0" r="2.05"/><circle cx="469.4" cy="290.5" r="2.05"/><circle cx="490.1" cy="331.9" r="2.05"/><circle cx="510.8" cy="273.0" r="2.05"/><circle cx="531.5" cy="244.4" r="2.05"/><circle cx="552.2" cy="270.6" r="2.05"/><circle cx="572.9" cy="232.8" r="2.05"/><circle cx="593.6" cy="298.0" r="2.05"/><circle cx="614.3" cy="322.0" r="2.05"/><circle cx="635.0" cy="251.5" r="2.05"/><circle cx="655.7" cy="295.6" r="2.05"/><circle cx="676.4" cy="261.6" r="2.05"/><circle cx="697.1" cy="304.0" r="2.05"/><circle cx="717.8" cy="282.0" r="2.05"/><circle cx="738.5" cy="222.0" r="2.05"/><circle cx="759.2" cy="282.8" r="2.05"/><circle cx="779.9" cy="244.7" r="2.05"/><circle cx="800.6" cy="276.0" r="2.05"/><circle cx="821.3" cy="266.6" r="2.05"/><circle cx="842.0" cy="203.4" r="2.05"/><circle cx="862.7" cy="232.9" r="2.05"/></g>
<polyline fill="none" stroke="#a95aa9" stroke-width="1.65" stroke-linejoin="round" stroke-linecap="round" stroke-opacity="0.9" points="117.5,258.0 138.2,289.0 158.9,231.5 179.6,230.5 200.3,198.0 221.0,240.0 241.7,292.8 262.4,339.6 283.1,301.6 303.8,303.0 324.5,301.0 345.2,280.0 365.9,254.7 386.6,231.2 407.3,207.5 428.0,249.2 448.7,217.2 469.4,218.7 490.1,286.6 510.8,229.4 531.5,244.4 552.2,279.0 572.9,260.9 593.6,237.8 614.3,208.4 635.0,232.8 655.7,271.2 676.4,217.2 697.1,257.8 717.8,286.0 738.5,246.5 759.2,270.7 779.9,229.0"/>
<g fill="#a95aa9"><circle cx="117.5" cy="258.0" r="2.05"/><circle cx="138.2" cy="289.0" r="2.05"/><circle cx="158.9" cy="231.5" r="2.05"/><circle cx="179.6" cy="230.5" r="2.05"/><circle cx="200.3" cy="198.0" r="2.05"/><circle cx="221.0" cy="240.0" r="2.05"/><circle cx="241.7" cy="292.8" r="2.05"/><circle cx="262.4" cy="339.6" r="2.05"/><circle cx="283.1" cy="301.6" r="2.05"/><circle cx="303.8" cy="303.0" r="2.05"/><circle cx="324.5" cy="301.0" r="2.05"/><circle cx="345.2" cy="280.0" r="2.05"/><circle cx="365.9" cy="254.7" r="2.05"/><circle cx="386.6" cy="231.2" r="2.05"/><circle cx="407.3" cy="207.5" r="2.05"/><circle cx="428.0" cy="249.2" r="2.05"/><circle cx="448.7" cy="217.2" r="2.05"/><circle cx="469.4" cy="218.7" r="2.05"/><circle cx="490.1" cy="286.6" r="2.05"/><circle cx="510.8" cy="229.4" r="2.05"/><circle cx="531.5" cy="244.4" r="2.05"/><circle cx="552.2" cy="279.0" r="2.05"/><circle cx="572.9" cy="260.9" r="2.05"/><circle cx="593.6" cy="237.8" r="2.05"/><circle cx="614.3" cy="208.4" r="2.05"/><circle cx="635.0" cy="232.8" r="2.05"/><circle cx="655.7" cy="271.2" r="2.05"/><circle cx="676.4" cy="217.2" r="2.05"/><circle cx="697.1" cy="257.8" r="2.05"/><circle cx="717.8" cy="286.0" r="2.05"/><circle cx="738.5" cy="246.5" r="2.05"/><circle cx="759.2" cy="270.7" r="2.05"/><circle cx="779.9" cy="229.0" r="2.05"/></g>
<polyline fill="none" stroke="#5c7fb5" stroke-width="1.65" stroke-linejoin="round" stroke-linecap="round" stroke-opacity="0.9" points="117.5,296.0 138.2,321.0 158.9,302.0 179.6,279.8 200.3,322.0 221.0,292.0 241.7,335.0 262.4,357.0 283.1,370.0 303.8,386.5 324.5,391.0 345.2,370.0 365.9,349.6 386.6,356.0 407.3,333.8 428.0,362.9 448.7,314.4 469.4,291.7 490.1,348.8 510.8,309.4 531.5,277.9 552.2,309.4 572.9,283.0 593.6,332.8 614.3,285.5 635.0,282.8 655.7,333.4 676.4,210.9 697.1,300.6 717.8,308.0 738.5,313.4 759.2,346.0"/>
<g fill="#5c7fb5"><circle cx="117.5" cy="296.0" r="2.05"/><circle cx="138.2" cy="321.0" r="2.05"/><circle cx="158.9" cy="302.0" r="2.05"/><circle cx="179.6" cy="279.8" r="2.05"/><circle cx="200.3" cy="322.0" r="2.05"/><circle cx="221.0" cy="292.0" r="2.05"/><circle cx="241.7" cy="335.0" r="2.05"/><circle cx="262.4" cy="357.0" r="2.05"/><circle cx="283.1" cy="370.0" r="2.05"/><circle cx="303.8" cy="386.5" r="2.05"/><circle cx="324.5" cy="391.0" r="2.05"/><circle cx="345.2" cy="370.0" r="2.05"/><circle cx="365.9" cy="349.6" r="2.05"/><circle cx="386.6" cy="356.0" r="2.05"/><circle cx="407.3" cy="333.8" r="2.05"/><circle cx="428.0" cy="362.9" r="2.05"/><circle cx="448.7" cy="314.4" r="2.05"/><circle cx="469.4" cy="291.7" r="2.05"/><circle cx="490.1" cy="348.8" r="2.05"/><circle cx="510.8" cy="309.4" r="2.05"/><circle cx="531.5" cy="277.9" r="2.05"/><circle cx="552.2" cy="309.4" r="2.05"/><circle cx="572.9" cy="283.0" r="2.05"/><circle cx="593.6" cy="332.8" r="2.05"/><circle cx="614.3" cy="285.5" r="2.05"/><circle cx="635.0" cy="282.8" r="2.05"/><circle cx="655.7" cy="333.4" r="2.05"/><circle cx="676.4" cy="210.9" r="2.05"/><circle cx="697.1" cy="300.6" r="2.05"/><circle cx="717.8" cy="308.0" r="2.05"/><circle cx="738.5" cy="313.4" r="2.05"/><circle cx="759.2" cy="346.0" r="2.05"/></g>
<text x="896.6" y="228.0" font-size="11.3" fill="#a4569f" textLength="63.0" lengthAdjust="spacingAndGlyphs">Netherlands</text>
<text x="896.6" y="242.0" font-size="11.3" fill="#9c6239" textLength="40.0" lengthAdjust="spacingAndGlyphs">Norway</text>
<text x="896.6" y="261.4" font-size="11.3" fill="#85334a" textLength="47.5" lengthAdjust="spacingAndGlyphs">Germany</text>
<text x="896.6" y="274.8" font-size="11.3" fill="#2b7f66" textLength="37.5" lengthAdjust="spacingAndGlyphs">Finland</text>
<text x="896.6" y="288.7" font-size="11.3" fill="#1b8a93" textLength="43.5" lengthAdjust="spacingAndGlyphs">Portugal</text>
<text x="896.6" y="302.3" font-size="11.3" fill="#b08457" textLength="47.0" lengthAdjust="spacingAndGlyphs">Denmark</text>
<text x="896.6" y="315.7" font-size="11.3" fill="#3a74c4" textLength="83.5" lengthAdjust="spacingAndGlyphs">United Kingdom</text>
<text x="896.6" y="329.7" font-size="11.3" fill="#a52a6b" textLength="27.5" lengthAdjust="spacingAndGlyphs">Spain</text>
<text x="896.6" y="343.0" font-size="11.3" fill="#1d3a66" textLength="21.5" lengthAdjust="spacingAndGlyphs">Italy</text>
<text x="896.6" y="357.0" font-size="11.3" fill="#c25a3a" textLength="41.0" lengthAdjust="spacingAndGlyphs">Belgium</text>
<text x="896.6" y="371.0" font-size="11.3" fill="#55739f" textLength="36.5" lengthAdjust="spacingAndGlyphs">Austria</text>
<text x="896.6" y="384.7" font-size="11.3" fill="#6f539a" textLength="34.0" lengthAdjust="spacingAndGlyphs">France</text>
<text x="896.6" y="398.0" font-size="11.3" fill="#d96f5c" textLength="59.5" lengthAdjust="spacingAndGlyphs">Switzerland</text>
<path d="M866.5 229.3 H878.6 V224.2 H892" fill="none" stroke="#cfcfcf" stroke-width="1"/>
<path d="M866.5 232.4 H878.6 V237.8 H892" fill="none" stroke="#cfcfcf" stroke-width="1"/>
<path d="M866.5 280.5 H874.3 V257.2 H892" fill="none" stroke="#cfcfcf" stroke-width="1"/>
<path d="M866.5 297.4 H878.6 V271.0 H892" fill="none" stroke="#cfcfcf" stroke-width="1"/>
<path d="M866.5 300.5 H883.0 V284.9 H892" fill="none" stroke="#cfcfcf" stroke-width="1"/>
<path d="M866.5 301.6 H887.3 V298.7 H892" fill="none" stroke="#cfcfcf" stroke-width="1"/>
<path d="M866.5 312.2 H883.4 V312.2 H892" fill="none" stroke="#cfcfcf" stroke-width="1"/>
<path d="M866.5 312.8 H883.4 V326.0 H892" fill="none" stroke="#cfcfcf" stroke-width="1"/>
<path d="M866.5 342.7 H883.4 V339.6 H892" fill="none" stroke="#cfcfcf" stroke-width="1"/>
<path d="M866.5 345.0 H883.4 V353.2 H892" fill="none" stroke="#cfcfcf" stroke-width="1"/>
<path d="M866.5 345.6 H878.6 V367.0 H892" fill="none" stroke="#cfcfcf" stroke-width="1"/>
<path d="M866.5 362.0 H874.4 V381.0 H892" fill="none" stroke="#cfcfcf" stroke-width="1"/>
<path d="M866.5 380.5 H870.2 V394.2 H892" fill="none" stroke="#cfcfcf" stroke-width="1"/>
<text transform="translate(267.64,110.1) scale(0.888,1)" font-size="39.3" fill="#000">N</text>
<text transform="translate(314.56,110.1) scale(0.681,1)" font-size="39.3" fill="#000">E</text>
<text transform="translate(353.52,110.1) scale(0.843,1)" font-size="39.3" fill="#000">T</text>
<text transform="translate(394.18,110.1) scale(0.876,1)" font-size="39.3" fill="#000">H</text>
<text transform="translate(440.73,110.1) scale(0.704,1)" font-size="39.3" fill="#000">E</text>
<text transform="translate(480.58,110.1) scale(0.751,1)" font-size="39.3" fill="#000">R</text>
<text transform="translate(522.99,110.1) scale(0.779,1)" font-size="39.3" fill="#000">L</text>
<text transform="translate(558.93,110.1) scale(0.883,1)" font-size="39.3" fill="#000">A</text>
<text transform="translate(602.46,110.1) scale(0.945,1)" font-size="39.3" fill="#000">N</text>
<text transform="translate(649.73,110.1) scale(0.860,1)" font-size="39.3" fill="#000">D</text>
<text transform="translate(694.95,110.1) scale(0.719,1)" font-size="39.3" fill="#000">S</text>
<rect x="200.00" y="98" width="10.50" height="3.2" fill="#000"/>
<rect x="222.50" y="98" width="10.50" height="3.2" fill="#000"/>
<rect x="245.50" y="98" width="10.00" height="3.2" fill="#000"/>
<rect x="726.25" y="98" width="10.00" height="3.2" fill="#000"/>
<rect x="748.75" y="98" width="10.00" height="3.2" fill="#000"/>
<rect x="770.75" y="98" width="10.00" height="3.2" fill="#000"/>
<path d="M192.6 134.5 H210.4 V173.3 H218.8 L201.5 189.5 L184.2 173.3 H192.6 Z" fill="#fff" stroke="#000" stroke-width="3.1" stroke-linejoin="miter"/>
<path d="M398.1 138.8 H415.9 V178.3 H424.3 L407.0 194.5 L389.7 178.3 H398.1 Z" fill="#fff" stroke="#000" stroke-width="3.1" stroke-linejoin="miter"/>
<path d="M448.3 152.8 H466.1 V192.1 H474.5 L457.2 208.3 L439.9 192.1 H448.3 Z" fill="#fff" stroke="#000" stroke-width="3.1" stroke-linejoin="miter"/>
<path d="M500.3 161.8 H518.1 V200.4 H526.5 L509.2 216.6 L491.9 200.4 H500.3 Z" fill="#fff" stroke="#000" stroke-width="3.1" stroke-linejoin="miter"/>
<path d="M602.9 139.2 H620.7 V178.0 H629.1 L611.8 194.2 L594.5 178.0 H602.9 Z" fill="#fff" stroke="#000" stroke-width="3.1" stroke-linejoin="miter"/>
<path d="M664.3 140.0 H682.1 V178.8 H690.5 L673.2 195.0 L655.9 178.8 H664.3 Z" fill="#fff" stroke="#000" stroke-width="3.1" stroke-linejoin="miter"/>
<path d="M772.9 163.5 H790.7 V202.3 H799.1 L781.8 218.5 L764.5 202.3 H772.9 Z" fill="#fff" stroke="#000" stroke-width="3.1" stroke-linejoin="miter"/>
<rect x="85.8" y="543.2" width="126.4" height="30" rx="3" fill="#f0f0f0"/>
<path d="M96.4 553.2 L106 558.4 L96.4 563.6Z" fill="#4f4f4f"/>
<text x="113.8" y="562" font-size="12.8" fill="#5a5a5a" textLength="86.2" lengthAdjust="spacingAndGlyphs">Play time-lapse</text>
<rect x="220.3" y="543.2" width="80.3" height="30" rx="3" fill="#f0f0f0"/>
<text x="228.8" y="562" font-size="12.8" fill="#5a5a5a" textLength="64" lengthAdjust="spacingAndGlyphs">Jan 5, 2020</text>
<line x1="321" y1="558.3" x2="790" y2="558.3" stroke="#dedede" stroke-width="1.4"/>
<line x1="790" y1="558.3" x2="870" y2="558.3" stroke="#8fa3c0" stroke-width="1.6"/>
<circle cx="790" cy="558.4" r="7.6" fill="#a9a9a9"/><circle cx="870.2" cy="558.4" r="7.6" fill="#a9a9a9"/>
<rect x="890.3" y="543.2" width="89.4" height="30" rx="3" fill="#f0f0f0"/>
<text x="898.4" y="562" font-size="12.8" fill="#5a5a5a" textLength="73.6" lengthAdjust="spacingAndGlyphs">Sep 15, 2024</text>
</svg></body></html>
